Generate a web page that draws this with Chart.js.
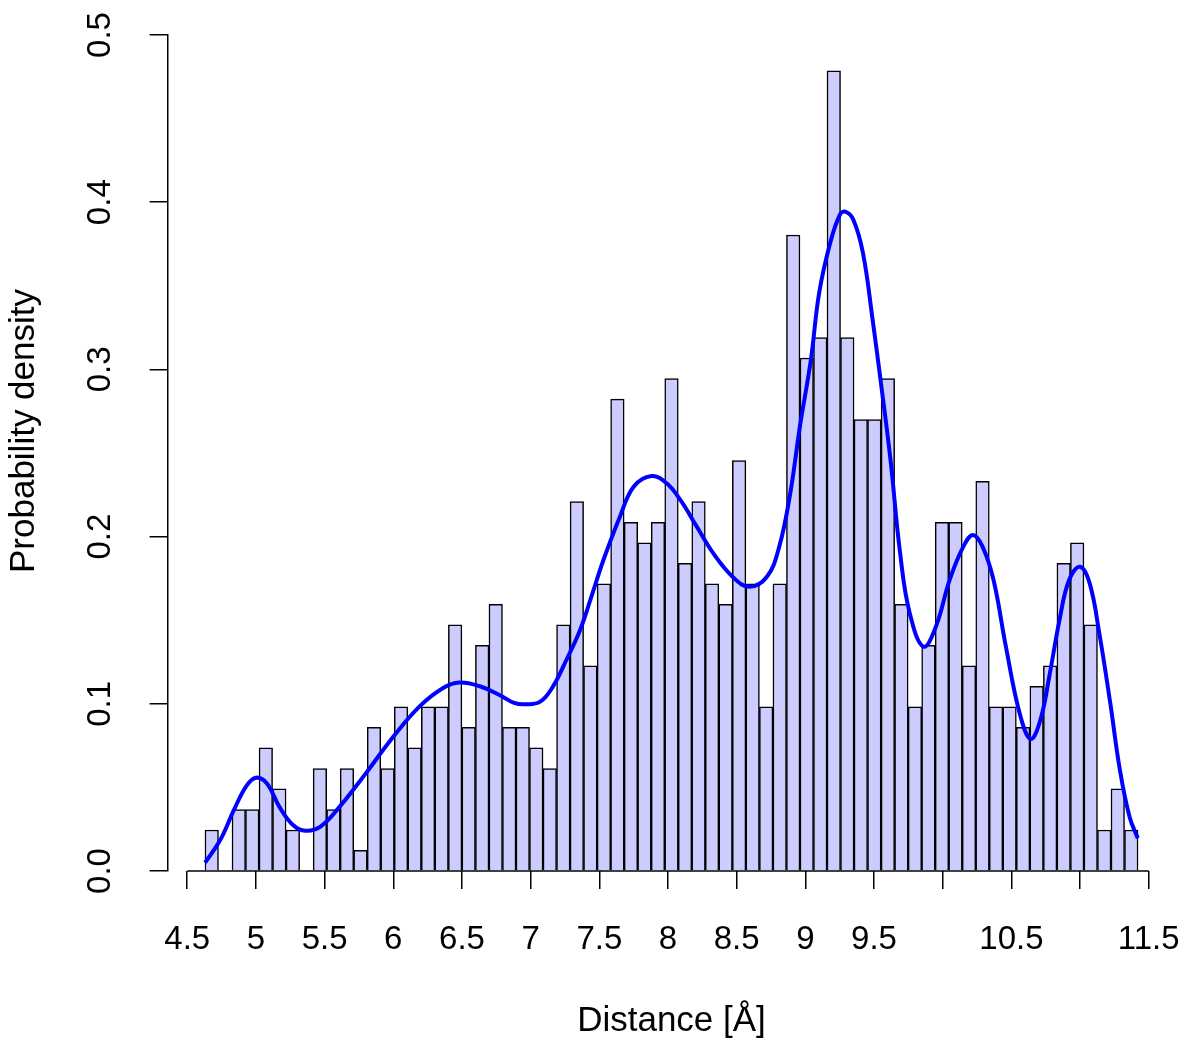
<!DOCTYPE html>
<html>
<head>
<meta charset="utf-8">
<script src="https://cdn.jsdelivr.net/npm/chart.js@4.4.1/dist/chart.umd.min.js"></script>
<style>
  html, body { margin: 0; padding: 0; background: #fff; }
</style>
</head>
<body>
<canvas id="myChart" width="1200" height="1053"></canvas>
<script>
// histogram bins (left edge of first bin + bin width) and densities
const binStart = 4.629
const binWidth = 0.09845
const density = [
  0.0245, 0, 0.0368, 0.0368, 0.0736, 0.0491, 0.0245, 0, 0.0613, 0.0368,
  0.0613, 0.0123, 0.0859, 0.0613, 0.0982, 0.0736, 0.0982, 0.0982, 0.1472, 0.0859,
  0.1350, 0.1595, 0.0859, 0.0859, 0.0736, 0.0613, 0.1472, 0.2209, 0.1227, 0.1718,
  0.2822, 0.2086, 0.1963, 0.2086, 0.2945, 0.1840, 0.2209, 0.1718, 0.1595, 0.2454,
  0.1718, 0.0982, 0.1718, 0.3804, 0.3068, 0.3190, 0.4786, 0.3190, 0.2700, 0.2700,
  0.2945, 0.1595, 0.0982, 0.1350, 0.2086, 0.2086, 0.1227, 0.2331, 0.0982, 0.0982,
  0.0859, 0.1104, 0.1227, 0.1840, 0.1963, 0.1472, 0.0245, 0.0491, 0.0245
]

// smoothed density curve
const kdeX = [
  4.63, 4.74, 4.84, 4.93, 5.00, 5.08, 5.17, 5.27, 5.36, 5.47,
  5.61, 5.80, 6.00, 6.19, 6.36, 6.48, 6.63, 6.78, 6.88, 6.96,
  7.07, 7.16, 7.26, 7.36, 7.45, 7.53, 7.65, 7.75, 7.88, 7.99,
  8.09, 8.21, 8.33, 8.47, 8.59, 8.72, 8.81, 8.89, 8.96, 9.04,
  9.10, 9.18, 9.25, 9.29, 9.35, 9.42, 9.49, 9.55, 9.62, 9.69,
  9.76, 9.86, 9.95, 10.05, 10.15, 10.22, 10.29, 10.37, 10.46, 10.56,
  10.64, 10.71, 10.78, 10.85, 10.92, 11.00, 11.07, 11.14, 11.22, 11.29,
  11.36, 11.42
]
const kdeY = [
  0.005, 0.0185, 0.0365, 0.0508, 0.0558, 0.0524, 0.0385, 0.0275, 0.0241, 0.0265,
  0.0385, 0.0584, 0.0803, 0.0983, 0.1093, 0.1127, 0.1105, 0.1050, 0.1005, 0.0997,
  0.1013, 0.110, 0.1262, 0.1441, 0.166, 0.186, 0.2119, 0.2298, 0.2362, 0.2319,
  0.2219, 0.2059, 0.190, 0.176, 0.170, 0.176, 0.194, 0.2259, 0.2657, 0.3056,
  0.3455, 0.3754, 0.3923, 0.3943, 0.3894, 0.3694, 0.3295, 0.292, 0.2458, 0.190,
  0.1541, 0.1342, 0.1461, 0.174, 0.194, 0.201, 0.194, 0.174, 0.1342, 0.0943,
  0.079, 0.090, 0.1182, 0.1501, 0.174, 0.182, 0.172, 0.1422, 0.1003, 0.0604,
  0.0325, 0.0196
]

const xTicks = [4.5, 5, 5.5, 6, 6.5, 7, 7.5, 8, 8.5, 9, 9.5, 10, 10.5, 11, 11.5]
const xTickLabels = ['4.5', '5', '5.5', '6', '6.5', '7', '7.5', '8', '8.5', '9', '9.5', '', '10.5', '', '11.5']
const yTicks = [0, 0.1, 0.2, 0.3, 0.4, 0.5]
const yTickLabels = ['0.0', '0.1', '0.2', '0.3', '0.4', '0.5']
const xMin = 4.357
const xMax = 11.694
const yTitle = 'Probability density'

const family = "'Liberation Sans', Arial, sans-serif"
const tickFont = { family: family, size: 33 }
const titleFont = { family: family, size: 35 }

// keep the plot region exactly where the layout padding puts it
function noScalePadding(scale) {
    scale.paddingTop = 0
    scale.paddingBottom = 0
    scale.paddingLeft = 0
    scale.paddingRight = 0
}

// R style x axis line (first to last tick) and y axis label
const rAxes = {
    id: 'rAxes',
    afterDraw(chart) {
        const x = chart.scales.x
        const area = chart.chartArea
        const ctx = chart.ctx
        ctx.save()
        ctx.strokeStyle = '#000'
        ctx.lineWidth = 1.5
        ctx.beginPath()
        ctx.moveTo(x.getPixelForValue(xTicks[0]), area.bottom)
        ctx.lineTo(x.getPixelForValue(xTicks[xTicks.length - 1]), area.bottom)
        ctx.stroke()

        ctx.translate(24, (area.top + area.bottom) / 2 - 22)
        ctx.rotate(-Math.PI / 2)
        ctx.fillStyle = '#000'
        ctx.font = titleFont.size + 'px ' + family
        ctx.textAlign = 'center'
        ctx.textBaseline = 'middle'
        ctx.fillText(yTitle, 0, 0)
        ctx.restore()
    }
}

let ctx = document.getElementById('myChart').getContext('2d')
let myChart = new Chart(ctx, {
    type: 'bar',
    data: {
        datasets: [{
            type: 'line',
            data: kdeX.map((x, i) => ({ x: x, y: kdeY[i] })),
            borderColor: '#0000ff',
            borderWidth: 4,
            pointRadius: 0,
            tension: 0.4,
            fill: false,
            order: 0
        }, {
            type: 'bar',
            data: density.map((d, i) => ({ x: binStart + binWidth * (i + 0.5), y: d })),
            backgroundColor: '#ccccff',
            borderColor: '#000',
            borderWidth: 1.5,
            borderSkipped: 'start',
            barPercentage: 1,
            categoryPercentage: 1,
            order: 1
        }]
    },
    options: {
        responsive: false,
        animation: false,
        layout: { padding: { left: 0, right: 24.6, top: 35, bottom: 0 } },
        plugins: {
            legend: { display: false },
            tooltip: { enabled: false }
        },
        scales: {
            x: {
                type: 'linear',
                min: xMin,
                max: xMax,
                offset: false,
                afterBuildTicks: (scale) => { scale.ticks = xTicks.map(v => ({ value: v })) },
                afterFit: (scale) => { scale.height = 182; noScalePadding(scale) },
                grid: { drawOnChartArea: false, drawTicks: true, tickLength: 18, color: '#000', lineWidth: 1.5, offset: false },
                border: { display: false },
                ticks: {
                    color: '#000',
                    font: tickFont,
                    padding: 31,
                    maxRotation: 0,
                    autoSkip: false,
                    callback: (v, i) => xTickLabels[i]
                },
                title: {
                    display: true,
                    text: 'Distance [Å]',
                    color: '#000',
                    font: titleFont,
                    padding: { top: 0, bottom: 11 }
                }
            },
            y: {
                min: 0,
                max: 0.5,
                afterBuildTicks: (scale) => { scale.ticks = yTicks.map(v => ({ value: v })) },
                afterFit: (scale) => { scale.width = 167.6; noScalePadding(scale) },
                grid: { drawOnChartArea: false, drawTicks: true, tickLength: 18, color: '#000', lineWidth: 1.5 },
                border: { display: true, color: '#000', width: 1.5 },
                ticks: {
                    color: '#000',
                    font: tickFont,
                    padding: 25.6,
                    minRotation: 90,
                    maxRotation: 90,
                    crossAlign: 'center',
                    autoSkip: false,
                    callback: (v, i) => yTickLabels[i]
                }
            }
        }
    },
    plugins: [rAxes]
})
</script>
</body>
</html>
